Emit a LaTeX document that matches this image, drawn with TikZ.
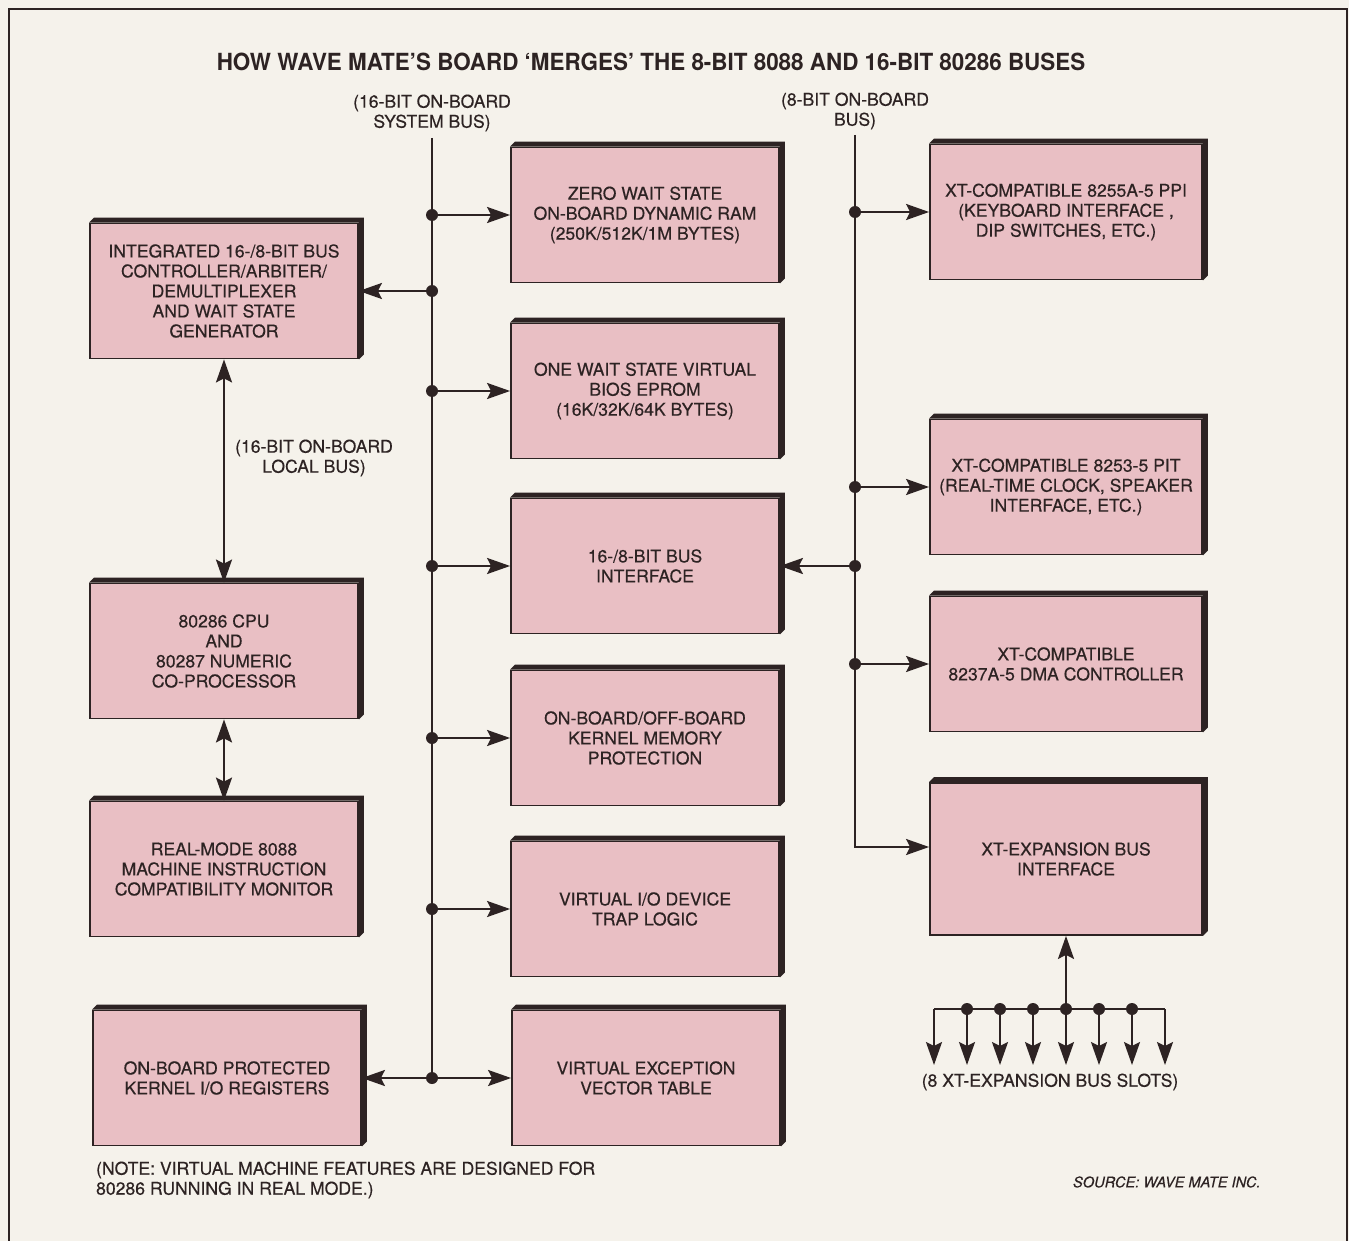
\documentclass[tikz,border=0pt]{standalone}
\usepackage{fontspec}
\setmainfont{TeX Gyre Heros}[FakeBold=0.4]
\newfontfamily\titlefont[FakeStretch=0.95]{TeX Gyre Heros}
\usepackage{xcolor}
\usepackage{tikz}
\usetikzlibrary{arrows.meta}
\definecolor{paper}{RGB}{245,242,235}
\definecolor{boxpink}{RGB}{233,191,196}
\definecolor{ink}{RGB}{45,35,35}
\tikzset{
    tnode/.style = {align=center, inner sep=0pt, text centered, text=ink, font=\fontsize{8.8}{10}\selectfont},
    unit_box/.style = {tnode, rectangle, draw=ink, fill=boxpink, line width=0.9pt, minimum width=134pt, minimum height=67.5pt},
    wide_box/.style = {unit_box, minimum width=136pt},
    box_edge/.style = {fill=ink},
    bus_dot/.style = {fill=ink}
}

\begin{document}
\begin{tikzpicture}
            [x=0.5pt, y=-0.5pt, line width=1.1pt, draw=ink,
            >={Stealth[length=11.5pt, width=8pt, inset=2pt]}]

            \path[use as bounding box, fill=paper] (0,0) rectangle (1349,1241);
            \draw[line width=1.2pt] (9,1241) -- (9,9) -- (1347,9) -- (1347,1241);

            \node[tnode] (title) at (651,62) {\titlefont\bfseries\fontsize{11.8}{12}\selectfont HOW WAVE MATE’S BOARD ‘MERGES’ THE 8-BIT 8088 AND 16-BIT 80286 BUSES};
            \node[tnode] (sys_label) at (432,113) {(16-BIT ON-BOARD\\SYSTEM BUS)};
            \node[tnode] (xt_label) at (855,111) {(8-BIT ON-BOARD\\BUS)};
            \node[tnode] (local_label) at (314,458) {(16-BIT ON-BOARD\\LOCAL BUS)};

            % left column
            \node[unit_box] (ctrl) at (224,291) {INTEGRATED 16-/8-BIT BUS\\CONTROLLER/ARBITER/\\DEMULTIPLEXER\\AND WAIT STATE\\GENERATOR};
            \node[unit_box] (cpu) at (224,651) {80286 CPU\\AND\\80287 NUMERIC\\CO-PROCESSOR};
            \node[unit_box] (mon) at (224,869) {REAL-MODE 8088\\MACHINE INSTRUCTION\\COMPATIBILITY MONITOR};
            \node[unit_box] (kio) at (227,1078) {ON-BOARD PROTECTED\\KERNEL I/O REGISTERS};

            % middle column
            \node[unit_box] (ram) at (645,215) {ZERO WAIT STATE\\ON-BOARD DYNAMIC RAM\\(250K/512K/1M BYTES)};
            \node[unit_box] (bios) at (645,391) {ONE WAIT STATE VIRTUAL\\BIOS EPROM\\(16K/32K/64K BYTES)};
            \node[unit_box] (bif) at (645,566) {16-/8-BIT BUS\\INTERFACE};
            \node[unit_box] (kmp) at (645,738) {ON-BOARD/OFF-BOARD\\KERNEL MEMORY\\PROTECTION};
            \node[unit_box] (vio) at (645,909) {VIRTUAL I/O DEVICE\\TRAP LOGIC};
            \node[unit_box] (vex) at (646,1078) {VIRTUAL EXCEPTION\\VECTOR TABLE};

            % right column
            \node[wide_box] (ppi) at (1066,212) {XT-COMPATIBLE 8255A-5 PPI\\(KEYBOARD INTERFACE ,\\DIP SWITCHES, ETC.)};
            \node[wide_box] (pit) at (1066,487) {XT-COMPATIBLE 8253-5 PIT\\(REAL-TIME CLOCK, SPEAKER\\INTERFACE, ETC.)};
            \node[wide_box] (dma) at (1066,664) {XT-COMPATIBLE\\8237A-5 DMA CONTROLLER};
            \node[wide_box, minimum height=76pt] (exp) at (1066,859) {XT-EXPANSION BUS\\INTERFACE};

            \foreach \n in {ctrl,cpu,mon,kio,ram,bios,bif,kmp,vio,vex,ppi,pit,dma,exp}
                \fill[box_edge] (\n.north west) -- ([shift={(5,-5)}]\n.north west) -- ([shift={(5,-5)}]\n.north east)
                    -- ([shift={(5,-5)}]\n.south east) -- (\n.south east) -- (\n.north east) -- cycle;

            % 16-bit system bus
            \coordinate (sys_top) at (432,138);
            \draw (sys_top) -- (sys_top |- vex.west);
            \foreach \n in {ram,bios,bif,kmp,vio,vex} {
                \draw[->] (sys_top |- \n.west) -- (\n.west);
                \fill[bus_dot] (sys_top |- \n.west) circle[radius=3pt];
            }
            \draw[->] (sys_top |- ctrl.east) -- (ctrl.east);
            \fill[bus_dot] (sys_top |- ctrl.east) circle[radius=3pt];
            \draw[->] (sys_top |- kio.east) -- (kio.east);

            % 8-bit bus
            \coordinate (xt_top) at (855,135);
            \draw[->] (xt_top) |- ([yshift=6pt]exp.west);
            \foreach \n in {ppi,pit,dma} {
                \draw[->] (xt_top |- \n.west) -- (\n.west);
                \fill[bus_dot] (xt_top |- \n.west) circle[radius=3pt];
            }
            \draw[->] (xt_top |- bif.east) -- (bif.east);
            \fill[bus_dot] (xt_top |- bif.east) circle[radius=3pt];

            % local bus
            \draw[<->] (ctrl.south) -- (cpu.north);
            \draw[<->] (cpu.south) -- (mon.north);

            % expansion slots
            \coordinate (slot_l) at (934,1009);
            \coordinate (slot_r) at (1165,1009);
            \draw (slot_l) -- (slot_r);
            \draw[->] (exp.south |- slot_l) -- (exp.south);
            \foreach \i in {1,...,8} {
                \coordinate (slot\i) at ({901+33*\i},1065);
                \draw[->] (slot\i |- slot_l) -- (slot\i);
            }
            \foreach \i in {2,...,7}
                \fill[bus_dot] (slot\i |- slot_l) circle[radius=3pt];
            \node[tnode] (slot_label) at (1050,1082) {(8 XT-EXPANSION BUS SLOTS)};

            \node[tnode, anchor=west, align=left] (note) at (95,1180) {(NOTE: VIRTUAL MACHINE FEATURES ARE DESIGNED FOR\\80286 RUNNING IN REAL MODE.)};
            \node[tnode, anchor=west, font=\itshape\fontsize{7.3}{8}\selectfont] (source) at (1072,1182) {SOURCE: WAVE MATE INC.};
        \end{tikzpicture}
\end{document}
